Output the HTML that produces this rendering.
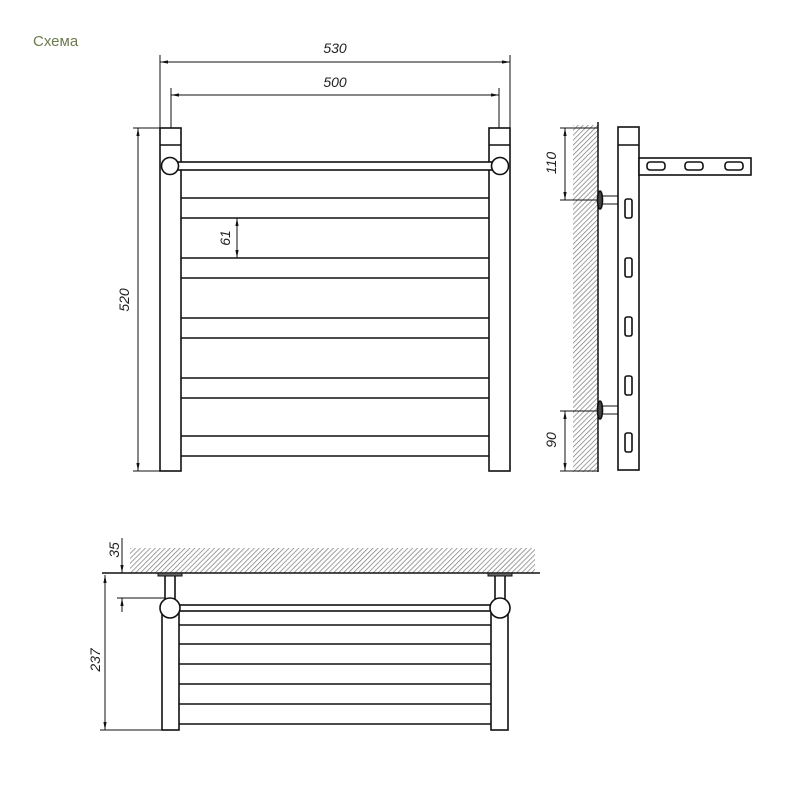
<!DOCTYPE html>
<html><head><meta charset="utf-8"><style>body{margin:0;background:#fff}svg{display:block}</style></head>
<body>
<svg width="800" height="800" viewBox="0 0 800 800" xmlns="http://www.w3.org/2000/svg" font-family="Liberation Sans, sans-serif">
<defs>
<pattern id="h" width="3.5" height="3.5" patternUnits="userSpaceOnUse" patternTransform="rotate(45)">
<line x1="0" y1="0" x2="0" y2="3.5" stroke="#777" stroke-width="1.4"/>
</pattern>
<marker id="a" viewBox="0 0 10 10" refX="10" refY="5" markerWidth="8" markerHeight="8" orient="auto-start-reverse" markerUnits="userSpaceOnUse"><path d="M0,3 L10,5 L0,7z" fill="#111"/></marker>
</defs>
<rect width="800" height="800" fill="#fff"/>
<text x="33" y="46" font-size="15" fill="#6b7a4e">Схема</text>

<g stroke="#111" fill="none" stroke-width="1">
<line x1="160" y1="55" x2="160" y2="128"/><line x1="510" y1="55" x2="510" y2="128"/>
<line x1="160" y1="62" x2="510" y2="62" marker-start="url(#a)" marker-end="url(#a)"/>
<line x1="171" y1="88" x2="171" y2="128"/><line x1="499" y1="88" x2="499" y2="128"/>
<line x1="171" y1="95" x2="499" y2="95" marker-start="url(#a)" marker-end="url(#a)"/>
<line x1="133" y1="128" x2="160" y2="128"/><line x1="133" y1="471" x2="160" y2="471"/>
<line x1="138" y1="128" x2="138" y2="471" marker-start="url(#a)" marker-end="url(#a)"/>
<line x1="237" y1="218" x2="237" y2="258" marker-start="url(#a)" marker-end="url(#a)"/>
</g>
<g stroke="#111" fill="#fff" stroke-width="1.6">
<rect x="160" y="128" width="21" height="343"/><rect x="489" y="128" width="21" height="343"/>
<line x1="160" y1="145" x2="181" y2="145"/><line x1="489" y1="145" x2="510" y2="145"/>
<rect x="176" y="162" width="320" height="8"/>
<circle cx="170" cy="166" r="8.5"/><circle cx="500" cy="166" r="8.5"/>
<g fill="none">
<path d="M181 198H489M181 218H489M181 258H489M181 278H489M181 318H489M181 338H489M181 378H489M181 398H489M181 436H489M181 456H489"/>
</g>
</g>
<g font-size="14" font-style="italic" fill="#222" text-anchor="middle">
<text x="335" y="53">530</text>
<text x="335" y="87">500</text>
<text transform="translate(129,300) rotate(-90)">520</text>
<text transform="translate(230,238) rotate(-90)">61</text>
<text transform="translate(556,163) rotate(-90)">110</text>
<text transform="translate(556,440) rotate(-90)">90</text>
<text transform="translate(119,550) rotate(-90)">35</text>
<text transform="translate(100,660) rotate(-90)">237</text>
</g>

<rect x="573" y="125" width="25" height="347" fill="url(#h)"/>
<g stroke="#111" fill="none" stroke-width="1">
<line x1="598" y1="122" x2="598" y2="472" stroke-width="1.5"/>
<line x1="560" y1="128" x2="598" y2="128"/><line x1="560" y1="200" x2="598" y2="200"/>
<line x1="565" y1="128" x2="565" y2="200" marker-start="url(#a)" marker-end="url(#a)"/>
<line x1="560" y1="411" x2="598" y2="411"/><line x1="560" y1="471" x2="598" y2="471"/>
<line x1="565" y1="411" x2="565" y2="471" marker-start="url(#a)" marker-end="url(#a)"/>
</g>
<g stroke="#111" fill="#fff" stroke-width="1.6">
<rect x="598" y="196" width="20" height="8" stroke-width="1"/>
<rect x="598" y="406" width="20" height="8" stroke-width="1"/>
<ellipse cx="600" cy="200" rx="2.5" ry="9" fill="#444"/>
<ellipse cx="600" cy="410" rx="2.5" ry="9" fill="#444"/>
<rect x="618" y="127" width="21" height="343"/>
<line x1="618" y1="145" x2="639" y2="145"/>
<rect x="639" y="158" width="112" height="17"/>
<rect x="647" y="162" width="18" height="8" rx="3"/><rect x="685" y="162" width="18" height="8" rx="3"/><rect x="725" y="162" width="18" height="8" rx="3"/>
<rect x="625" y="199" width="7" height="19" rx="2"/><rect x="625" y="258" width="7" height="19" rx="2"/><rect x="625" y="317" width="7" height="19" rx="2"/><rect x="625" y="376" width="7" height="19" rx="2"/><rect x="625" y="433" width="7" height="19" rx="2"/>
</g>

<rect x="130" y="548" width="405" height="25" fill="url(#h)"/>
<g stroke="#111" fill="none" stroke-width="1">
<line x1="102" y1="573" x2="540" y2="573" stroke-width="1.5"/>
<line x1="117" y1="598" x2="165" y2="598"/>
<line x1="122" y1="538" x2="122" y2="573" />
<line x1="122" y1="562" x2="122" y2="573" marker-end="url(#a)"/>
<line x1="122" y1="598" x2="122" y2="612"/>
<line x1="122" y1="612" x2="122" y2="598" marker-end="url(#a)"/>
<line x1="100" y1="730" x2="162" y2="730"/>
<line x1="105" y1="575" x2="105" y2="730" marker-start="url(#a)" marker-end="url(#a)"/>
</g>
<g stroke="#111" fill="#fff" stroke-width="1.6">
<rect x="165" y="575" width="10" height="26"/><rect x="495" y="575" width="10" height="26"/>
<rect x="158" y="573" width="24" height="3" fill="#666" stroke-width="1"/><rect x="488" y="573" width="24" height="3" fill="#666" stroke-width="1"/>
<rect x="162" y="612" width="17" height="118"/><rect x="491" y="612" width="17" height="118"/>
<rect x="176" y="605" width="320" height="6"/>
<circle cx="170" cy="608" r="10"/><circle cx="500" cy="608" r="10"/>
<path fill="none" d="M179 625H491M179 644H491M179 664H491M179 684H491M179 704H491M179 724H491"/>
</g>
</svg>
</body></html>
